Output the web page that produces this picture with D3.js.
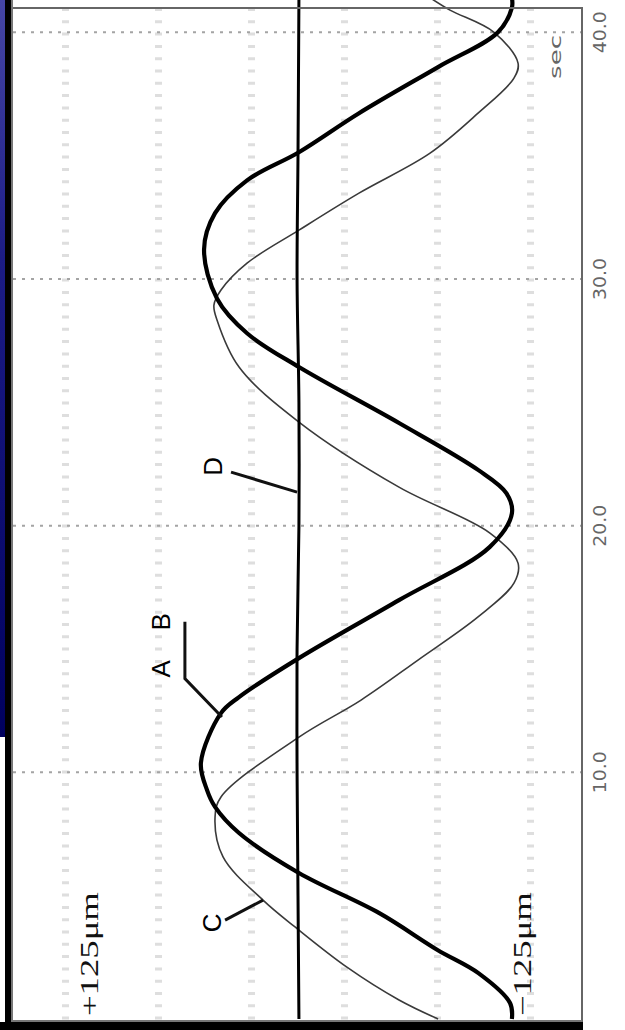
<!DOCTYPE html>
<html>
<head>
<meta charset="utf-8">
<script src="https://d3js.org/d3.v7.min.js"></script>
<style>
  body { margin: 0; background: #fff; }
  svg { display: block; }
</style>
</head>
<body>
<script>
// time ticks (seconds) and their labels
var timeTicks = [10, 20, 30, 40];
var timeLabels = ["10.0", "20.0", "30.0", "40.0"];
// amplitude gridlines (um)
var ampGrid = [-125, -75, -25, 25, 75, 125];

// curve A/B (thick)
var tAB   = [0, 0.65, 1.86, 2.8, 4.3, 5.92, 7.54, 8.6, 9.28, 10.38, 12.4, 13.05, 14.63, 16.98, 19.13, 20.5, 21.32, 22.25, 24.16, 26.43, 27.8, 29.2, 31.2, 32.67, 34.0, 35.14, 36.72, 38.59, 40.0, 41.0, 41.4];
var ampAB = [-115, -114, -97, -75, -43.5, -0.5, 31.7, 44.6, 48.9, 52.2, 41.4, 31.7, -0.5, -54.3, -103, -115, -112, -97, -54.3, -0.5, 27.4, 43.5, 50.5, 44.6, 27.4, -0.5, -32.8, -75.3, -107.5, -115, -115];

// curve C (thin)
var tC   = [0, 0.77, 2.1, 3.73, 4.82, 6.57, 8.19, 9.0, 11.43, 12.93, 14.55, 16.3, 17.67, 18.48, 19.7, 21.56, 24.2, 26.43, 28.33, 28.94, 29.55, 30.64, 31.98, 33.48, 35.1, 36.72, 38.14, 38.75, 40.0, 40.9, 41.4];
var ampC = [-75.3, -54.3, -26.3, 1.6, 18.8, 40.3, 44.6, 41.4, -0.5, -33.9, -64.5, -96.8, -116.1, -118.3, -103.2, -54.3, -0.5, 31.7, 43.5, 45.2, 41.4, 27.4, -0.5, -32.8, -71, -96.8, -116.1, -118.3, -105.4, -81.7, -71];

// curve D (nearly flat)
var tD   = [0, 5, 10, 15, 20, 25, 30, 35, 41.4];
var ampD = [-0.5, 0, 0.5, 0.5, -0.5, -0.5, 0.5, 0, -0.5];

// annotation letters: time and amplitude of their baseline centre
var noteLabels = ["A", "B", "C", "D"];
var noteT   = [14.2, 16.1, 3.9, 22.4];
var noteAmp = [68.8, 68.8, 41.4, 40.9];

var W = 625, H = 1030;
var frame = {left: 13, right: 582, top: 8, bottom: 1021};

var svg = d3.select("body").append("svg")
  .attr("width", W).attr("height", H);

var y = d3.scaleLinear().domain([0, 40]).range([1019, 32.3]);
var x = d3.scaleLinear().domain([125, -125]).range([65.5, 530.5]);

svg.append("rect").attr("width", W).attr("height", H).attr("fill", "#fff");

// vertical dotted grid
svg.append("g").selectAll("line").data(ampGrid).enter().append("line")
  .attr("x1", d => x(d)).attr("x2", d => x(d))
  .attr("y1", frame.top).attr("y2", frame.bottom)
  .attr("stroke", "#dedede").attr("stroke-width", 7)
  .attr("stroke-dasharray", "3 9.3");

// horizontal dotted grid
svg.append("g").selectAll("line").data(timeTicks).enter().append("line")
  .attr("x1", frame.left).attr("x2", frame.right)
  .attr("y1", d => y(d)).attr("y2", d => y(d))
  .attr("stroke", "#a4a4a4").attr("stroke-width", 2)
  .attr("stroke-dasharray", "3 6");

var line = d3.line()
  .x(d => x(d[1])).y(d => y(d[0]))
  .curve(d3.curveCatmullRom.alpha(0.5));

var curves = svg.append("g");
curves.append("path")
  .datum(tC.map((t, i) => [t, ampC[i]]))
  .attr("d", line).attr("fill", "none")
  .attr("stroke", "#3a3a3a").attr("stroke-width", 1.6);
curves.append("path")
  .datum(tD.map((t, i) => [t, ampD[i]]))
  .attr("d", line).attr("fill", "none")
  .attr("stroke", "#000").attr("stroke-width", 3);
curves.append("path")
  .datum(tAB.map((t, i) => [t, ampAB[i]]))
  .attr("d", line).attr("fill", "none")
  .attr("stroke", "#000").attr("stroke-width", 4.2);

// pointer lines
var pointers = [
  [[16.1, 60.8], [13.8, 60.8], [12.24, 40.9]],
  [[4.01, 39.2], [4.82, 18.8]],
  [[22.17, 36], [21.36, 0.5]]
];
var pline = d3.line().x(d => x(d[1])).y(d => y(d[0]));
svg.append("g").selectAll("path").data(pointers).enter().append("path")
  .attr("d", pline).attr("fill", "none")
  .attr("stroke", "#111").attr("stroke-width", 3);

// letter labels
svg.append("g").selectAll("text").data(noteLabels).enter().append("text")
  .attr("transform", (d, i) => "translate(" + x(noteAmp[i]) + "," + y(noteT[i]) + ") rotate(-90)")
  .attr("text-anchor", "middle")
  .style("font", "26px 'Liberation Sans', Arial, sans-serif")
  .attr("fill", "#000")
  .text(d => d);

// +/-125um labels
var ampLabels = ["+125\u03bcm", "\u2212125\u03bcm"];
var ampLabelPos = [107.5, -125.5];
svg.append("g").selectAll("text").data(ampLabels).enter().append("text")
  .attr("transform", (d, i) => "translate(" + x(ampLabelPos[i]) + "," + y(2.63) + ") rotate(-90)")
  .attr("text-anchor", "middle")
  .attr("textLength", 124).attr("lengthAdjust", "spacingAndGlyphs")
  .style("font", "25px 'Liberation Serif', 'Times New Roman', serif")
  .attr("fill", "#111")
  .text(d => d);

// time tick labels
svg.append("g").selectAll("text").data(timeLabels).enter().append("text")
  .attr("transform", (d, i) => "translate(606," + y(timeTicks[i]) + ") rotate(-90)")
  .attr("text-anchor", "middle")
  .attr("textLength", 42).attr("lengthAdjust", "spacingAndGlyphs")
  .style("font", "18px 'DejaVu Sans', sans-serif")
  .attr("fill", "#666")
  .text(d => d);

svg.append("text")
  .attr("transform", "translate(561," + y(39) + ") rotate(-90)")
  .attr("text-anchor", "middle")
  .attr("textLength", 44).attr("lengthAdjust", "spacingAndGlyphs")
  .style("font", "15px 'DejaVu Sans', sans-serif")
  .attr("fill", "#666")
  .text("sec");

// frame
svg.append("line").attr("x1", frame.left).attr("x2", frame.right + 1)
  .attr("y1", frame.top).attr("y2", frame.top)
  .attr("stroke", "#666").attr("stroke-width", 2);
svg.append("line").attr("x1", frame.right).attr("x2", frame.right)
  .attr("y1", frame.top).attr("y2", frame.bottom + 1)
  .attr("stroke", "#666").attr("stroke-width", 2);
svg.append("line").attr("x1", frame.left).attr("x2", frame.right)
  .attr("y1", frame.bottom).attr("y2", frame.bottom)
  .attr("stroke", "#777").attr("stroke-width", 2);

// left blue strip + black bars
var grad = svg.append("defs").append("linearGradient")
  .attr("id", "blue").attr("x1", 0).attr("x2", 0).attr("y1", 0).attr("y2", 1);
grad.append("stop").attr("offset", "0%").attr("stop-color", "#4646a6");
grad.append("stop").attr("offset", "35%").attr("stop-color", "#1c1c86");
grad.append("stop").attr("offset", "100%").attr("stop-color", "#00005e");
svg.append("rect").attr("x", 0).attr("y", 0).attr("width", 6).attr("height", 737)
  .attr("fill", "url(#blue)");
svg.append("rect").attr("x", 5).attr("y", 0).attr("width", 6).attr("height", H)
  .attr("fill", "#000");
svg.append("rect").attr("x", 11).attr("y", 0).attr("width", 2).attr("height", H)
  .attr("fill", "#777");
svg.append("rect").attr("x", 0).attr("y", 1022).attr("width", frame.right + 1).attr("height", 8)
  .attr("fill", "#000");
</script>
</body>
</html>
